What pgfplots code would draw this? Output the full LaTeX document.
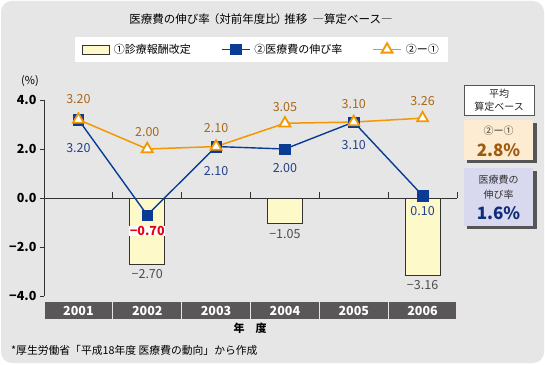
\documentclass[border=0pt]{standalone}
\usepackage{pgfplots}
\pgfplotsset{compat=1.18}
\usepackage{fontspec}
\setmainfont{Noto Sans CJK JP}
\definecolor{bggray}{HTML}{E6E6E6}
\definecolor{stripgray}{HTML}{595757}
\definecolor{barfill}{HTML}{FDF9C8}
\definecolor{peach}{HTML}{FDEBD2}
\definecolor{lav}{HTML}{D8D8EE}
\definecolor{navy}{HTML}{0A3C96}
\definecolor{orng}{HTML}{F39800}
\definecolor{orngtxt}{HTML}{A8691A}
\definecolor{bluetxt}{HTML}{23428A}
\definecolor{redtxt}{HTML}{E60012}
\definecolor{pcorng}{HTML}{9C5B0E}
\definecolor{pcblue}{HTML}{0F2D7A}
\definecolor{shadow}{HTML}{555555}
\newcommand{\fs}[1]{\fontsize{#1}{#1}\selectfont}
\pgfplotsset{
  lineleg/.style={legend image code/.code={\draw[mark repeat=2, mark phase=2, ##1] plot coordinates {(0pt,0pt) (14pt,0pt) (28pt,0pt)};}},
  barleg/.style={legend image code/.code={\draw[fill=barfill, draw=black!80, line width=0.8pt] (0pt,-4.5pt) rectangle (27pt,4.5pt);}},
}
\begin{document}
\begin{tikzpicture}
\useasboundingbox (0,0) rectangle (545pt,364pt);
\fill[white] (0,0) rectangle (545pt,364pt);
\fill[bggray, rounded corners=11pt] (1pt,1pt) rectangle (544pt,363pt);
% title
\node[font=\fs{11.5}] at (261pt,345pt) {医療費の伸び率\kern-2pt（対前年度比\kern-1pt）\kern-3pt推移\ \ ―算定ベース―};
% (%)
\node[font=\fs{11}] at (30pt,283pt) {(\%)};
% year label
\node[font=\bfseries\fs{11}] at (250pt,36pt) {年\quad 度};
% footnote
\node[font=\fs{10.8}, anchor=west, inner sep=0pt] at (11pt,14pt) {*厚生労働省「平成18年度 医療費の動向」から作成};
% right panels
\draw[shadow, fill=white, line width=0.8pt] (464pt,249pt) rectangle (534pt,279pt);
\node[font=\fontsize{10}{13}\selectfont, align=center, text=black!85] at (499pt,264pt) {平均\\算定ベース};
\fill[shadow] (467pt,201pt) rectangle (536.5pt,241pt);
\fill[peach] (464pt,204pt) rectangle (533pt,244pt);
\node[font=\fs{10}, text=black!80] at (498.5pt,233pt) {②ー①};
\node[font=\bfseries\fs{17}, text=pcorng] at (498.5pt,214pt) {2.8\%};
\fill[shadow] (467pt,135pt) rectangle (536.5pt,193pt);
\fill[lav] (464pt,138pt) rectangle (533pt,196pt);
\node[font=\fs{10}, text=black!80] at (498.5pt,184pt) {医療費の};
\node[font=\fs{10}, text=black!80] at (498.5pt,169pt) {伸び率};
\node[font=\bfseries\fs{17}, text=pcblue] at (498.5pt,151pt) {1.6\%};
\begin{axis}[
  at={(44pt,68pt)}, anchor=south west,
  scale only axis, width=413pt, height=196pt,
  xmin=-0.5, xmax=5.5, ymin=-4, ymax=4,
  clip=false,
  axis y line*=left, axis x line*=bottom,
  axis line style={-},
  x axis line style={draw=none},
  y axis line style={black!80, line width=0.8pt},
  xtick={0,1,2,3,4,5},
  xticklabels={2001,2002,2003,2004,2005,2006},
  major x tick style={draw=none},
  xticklabel style={fill=stripgray, text=white, font=\bfseries\fs{12.5},
    minimum width=67.8pt, minimum height=17pt, inner sep=0pt, anchor=north, yshift=-2pt},
  ytick={-4,-2,0,2,4},
  yticklabels={−4.0,−2.0,0.0,2.0,4.0},
  yticklabel style={font=\bfseries\fs{12.5}, text=black},
  major y tick style={black!80, line width=0.8pt},
  tick align=outside, major tick length=4pt,
  legend columns=3,
  legend style={at={(0.5266,1.2577)}, anchor=center, draw=none, fill=white,
    inner xsep=7pt, inner ysep=5pt, font=\fs{11},
    /tikz/every even column/.append style={column sep=28pt},
    /tikz/every odd column/.append style={column sep=2pt}},
  legend cell align=left,
]
% zero line with ticks
\draw[black!80, line width=0.8pt] (axis cs:-0.5,0) -- (axis cs:5.5,0);
\pgfplotsinvokeforeach{0.5,1.5,2.5,3.5,4.5,5.5}{
  \draw[black!80, line width=0.8pt] (axis cs:#1,0) -- ++(0pt,6pt);
}
\addplot[ybar, bar width=35pt, fill=barfill, draw=black!80, line width=0.8pt, barleg]
  coordinates {(1,-2.70) (3,-1.05) (5,-3.16)};
\addlegendentry{①診療報酬改定}
\addplot[navy, line width=1.4pt, mark=square*, mark size=5.2pt, mark options={fill=navy, draw=navy, line width=0.5pt}, lineleg]
  coordinates {(0,3.20) (1,-0.70) (2,2.10) (3,2.00) (4,3.10) (5,0.10)};
\addlegendentry{②医療費の伸び率}
\addplot[orng, line width=1.5pt, mark=triangle*, mark size=6.3pt, mark options={fill=white, draw=orng, line width=1.8pt}, lineleg]
  coordinates {(0,3.20) (1,2.00) (2,2.10) (3,3.05) (4,3.10) (5,3.26)};
\addlegendentry{②ー①}
% orange labels
\node[font=\fs{12.5}, text=orngtxt] at ([yshift=21pt]axis cs:0,3.20) {3.20};
\node[font=\fs{12.5}, text=orngtxt] at ([yshift=17pt]axis cs:1,2.00) {2.00};
\node[font=\fs{12.5}, text=orngtxt] at ([yshift=19pt]axis cs:2,2.10) {2.10};
\node[font=\fs{12.5}, text=orngtxt] at ([yshift=16pt]axis cs:3,3.05) {3.05};
\node[font=\fs{12.5}, text=orngtxt] at ([yshift=18pt]axis cs:4,3.10) {3.10};
\node[font=\fs{12.5}, text=orngtxt] at ([yshift=17pt]axis cs:5,3.26) {3.26};
% blue labels
\node[font=\fs{12.5}, text=bluetxt] at ([yshift=-28pt]axis cs:0,3.20) {3.20};
\node[font=\bfseries\fs{12.5}, text=redtxt, fill=white, inner sep=0.5pt] at ([yshift=-16pt]axis cs:1,-0.70) {−0.70};
\node[font=\fs{12.5}, text=bluetxt] at ([yshift=-24pt]axis cs:2,2.10) {2.10};
\node[font=\fs{12.5}, text=bluetxt] at ([yshift=-19pt]axis cs:3,2.00) {2.00};
\node[font=\fs{12.5}, text=bluetxt] at ([yshift=-23pt]axis cs:4,3.10) {3.10};
\node[font=\fs{12.5}, text=bluetxt] at ([yshift=-15pt]axis cs:5,0.10) {0.10};
% bar labels
\node[font=\fs{12.5}, text=black!70] at ([yshift=-10pt]axis cs:1,-2.70) {−2.70};
\node[font=\fs{12.5}, text=black!70] at ([yshift=-10pt]axis cs:3,-1.05) {−1.05};
\node[font=\fs{12.5}, text=black!70] at ([yshift=-10pt]axis cs:5,-3.16) {−3.16};
\end{axis}
\end{tikzpicture}
\end{document}
